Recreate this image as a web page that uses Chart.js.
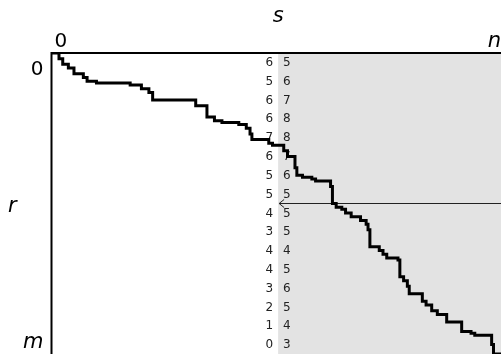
<!DOCTYPE html>
<html>
<head>
<meta charset="utf-8">
<script src="https://cdn.jsdelivr.net/npm/chart.js@4/dist/chart.umd.min.js"></script>
<style>
  html, body { margin: 0; padding: 0; background: #fff; }
  canvas { display: block; }
</style>
</head>
<body>
<canvas id="chart" width="501" height="354"></canvas>
<script>
// grid size of the path (s goes 0..n, r goes 0..m)
const n = 240;
const m = 160;
const midCol = 121;
const midRow = 80;

// corners of the staircase path: walk right to s, then down to r
const pathS = [0, 4, 6, 9, 12, 17, 19, 24, 42, 48, 52, 54, 77, 83, 87, 91, 100, 104, 106, 107,
  116, 118, 124, 126, 130, 131, 134, 139, 141, 149, 150, 152, 155, 157, 160, 165, 168, 169, 170,
  175, 177, 179, 185, 186, 188, 190, 191, 198, 200, 203, 206, 211, 219, 224, 226, 235, 236, 240];
const pathR = [0, 3, 6, 8, 11, 13, 15, 16, 17, 19, 21, 25, 28, 34, 36, 37, 38, 40, 43, 46,
  48, 49, 52, 55, 61, 65, 66, 67, 68, 71, 80, 82, 83, 85, 87, 89, 91, 94, 103,
  105, 107, 109, 110, 119, 121, 124, 128, 132, 134, 137, 139, 143, 148, 149, 150, 155, 160, 160];

// the two columns of numbers around the middle column, one per row band
const leftCol = [6, 5, 6, 6, 7, 6, 5, 5, 4, 3, 4, 4, 3, 2, 1, 0];
const rightCol = [5, 6, 7, 8, 8, 7, 6, 5, 5, 5, 4, 5, 6, 5, 4, 3];

const pathData = pathS.map((s, i) => ({ x: s, y: pathR[i] }));

const decor = {
  id: 'decor',
  beforeDatasetsDraw(chart) {
    const { ctx, chartArea: a, scales: { x, y } } = chart;
    const gx = x.getPixelForValue(midCol);
    ctx.save();
    // shaded right half
    ctx.fillStyle = '#e3e3e3';
    ctx.fillRect(gx, a.top, a.right - gx, a.bottom - a.top);

    // arrow along the middle row
    const ay = y.getPixelForValue(midRow);
    ctx.strokeStyle = '#222';
    ctx.lineWidth = 1;
    ctx.beginPath();
    ctx.moveTo(gx + 1, ay);
    ctx.lineTo(a.right, ay);
    ctx.moveTo(gx + 6, ay - 4);
    ctx.lineTo(gx + 1, ay);
    ctx.lineTo(gx + 6, ay + 4);
    ctx.stroke();

    // row numbers
    const band = (y.getPixelForValue(m) - y.getPixelForValue(0)) / leftCol.length;
    ctx.font = '12px "DejaVu Sans"';
    ctx.fillStyle = '#222';
    ctx.textBaseline = 'middle';
    leftCol.forEach((v, i) => {
      const ry = y.getPixelForValue(0) + band * (i + 0.5) + 0.5;
      ctx.textAlign = 'right';
      ctx.fillText(String(v), gx - 5, ry);
      ctx.textAlign = 'left';
      ctx.fillText(String(rightCol[i]), gx + 5, ry);
    });
    ctx.restore();
  },
  afterDraw(chart) {
    const { ctx, chartArea: a, scales: { x, y } } = chart;
    ctx.save();
    // axes
    ctx.strokeStyle = '#000';
    ctx.lineWidth = 2;
    ctx.beginPath();
    ctx.moveTo(a.left, a.bottom);
    ctx.lineTo(a.left, a.top);
    ctx.lineTo(a.right, a.top);
    ctx.stroke();

    ctx.fillStyle = '#000';
    ctx.textBaseline = 'alphabetic';
    ctx.font = 'italic 21px "DejaVu Sans"';
    ctx.textAlign = 'center';
    ctx.fillText('s', x.getPixelForValue(midCol), 22);
    ctx.textAlign = 'right';
    ctx.fillText('n', x.getPixelForValue(n), 47);
    ctx.fillText('m', a.left - 8, y.getPixelForValue(m) - 6);
    ctx.textAlign = 'left';
    ctx.fillText('r', 8, 212);
    ctx.font = '20px "DejaVu Sans"';
    ctx.fillText('0', x.getPixelForValue(0) + 3, 47);
    ctx.textAlign = 'right';
    ctx.fillText('0', a.left - 8, y.getPixelForValue(0) + 22);
    ctx.restore();
  }
};

new Chart(document.getElementById('chart'), {
  type: 'line',
  data: {
    datasets: [{
      data: pathData,
      borderColor: '#000',
      borderWidth: 3,
      stepped: 'before',
      pointRadius: 0,
      fill: false,
      borderJoinStyle: 'miter'
    }]
  },
  options: {
    responsive: false,
    animation: false,
    devicePixelRatio: 1,
    layout: { padding: { left: 51.5, top: 53, right: 0, bottom: 0 } },
    plugins: { legend: { display: false }, tooltip: { enabled: false } },
    scales: {
      x: { type: 'linear', min: 0, max: n, display: false },
      y: { type: 'linear', min: 0, max: m, reverse: true, display: false }
    }
  },
  plugins: [decor]
});
</script>
</body>
</html>
